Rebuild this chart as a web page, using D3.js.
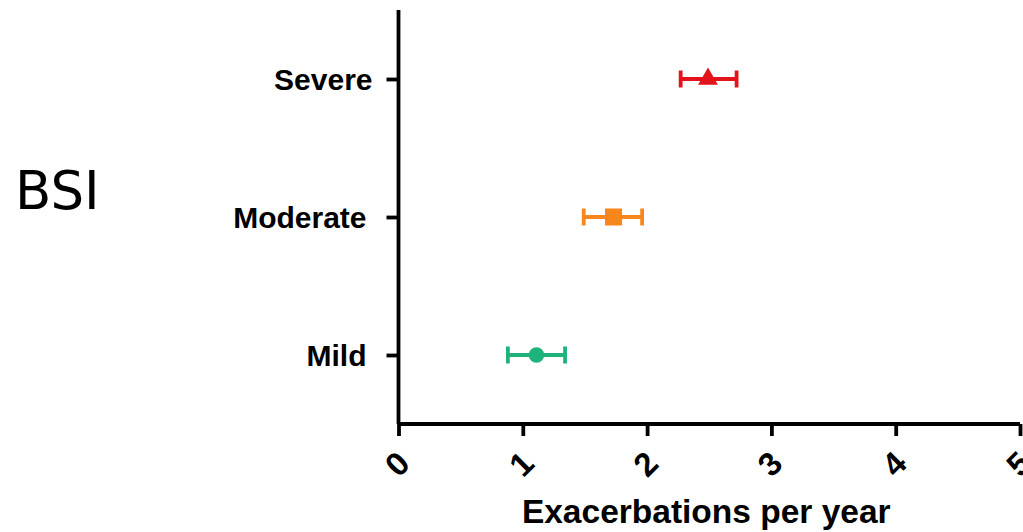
<!DOCTYPE html>
<html>
<head>
<meta charset="utf-8">
<script src="https://cdn.jsdelivr.net/npm/d3@7"></script>
<style>
  body { margin: 0; background: #fff; }
  svg { display: block; }
  .axis text { font-family: "Liberation Sans", Arial, sans-serif; font-weight: bold; fill: #000; }
</style>
</head>
<body>
<svg></svg>
<script>
var w = 1023, h = 532;

// data
var categories = ["Mild", "Moderate", "Severe"];
var means = [1.11, 1.73, 2.49];
var lower = [0.88, 1.49, 2.27];
var upper = [1.34, 1.96, 2.72];
var colors = ["#1db37b", "#f7861c", "#e3131b"];
var shapes = ["circle", "square", "triangle"];
var xTicks = [0, 1, 2, 3, 4, 5];

var svg = d3.select("svg")
    .attr("width", w)
    .attr("height", h);

var x = d3.scaleLinear().domain([0, 5]).range([398.5, 1020]);
var y = d3.scalePoint().domain(categories).range([424, 10]).padding(0.5);

// y axis
var yAxis = svg.append("g")
    .attr("class", "axis")
    .attr("transform", "translate(" + x(0) + ",0)")
    .call(d3.axisLeft(y).tickSize(12).tickPadding(20));
yAxis.select(".domain").attr("stroke-width", 3.8).attr("d", "M0,10V424");
yAxis.selectAll(".tick line").attr("stroke-width", 3.8);
yAxis.selectAll(".tick text").attr("font-size", 30).attr("dy", "0.35em");
yAxis.selectAll(".tick text").filter(d => d == "Severe").attr("x", -26);

// x axis
var xAxis = svg.append("g")
    .attr("class", "axis")
    .attr("transform", "translate(0,424)")
    .call(d3.axisBottom(x).tickValues(xTicks).tickSize(12).tickFormat(d3.format("d")));
xAxis.select(".domain").attr("stroke-width", 3.8).attr("d", "M" + x(0) + ",0H" + x(5));
xAxis.selectAll(".tick line").attr("stroke-width", 3.8);
xAxis.selectAll(".tick text")
    .attr("x", null).attr("y", null).attr("dy", null)
    .attr("transform", "translate(-2,40) rotate(-45)")
    .attr("text-anchor", "middle")
    .attr("dominant-baseline", "central")
    .style("font-size", "33px");

// axis title
svg.append("text")
    .attr("x", (x(0) + x(5)) / 2 - 3)
    .attr("y", 523)
    .attr("text-anchor", "middle")
    .style("font-family", "'Liberation Sans', Arial, sans-serif")
    .style("font-weight", "bold")
    .style("font-size", "33.5px")
    .text("Exacerbations per year");

// BSI label
svg.append("text")
    .attr("x", 15)
    .attr("y", 209)
    .style("font-family", "'DejaVu Sans', Verdana, sans-serif")
    .style("font-size", "53px")
    .text("BSI");

// error bars + markers
var rows = categories.map((c, i) => ({cat: c, mean: means[i], lo: lower[i], hi: upper[i], color: colors[i], shape: shapes[i]}));

var g = svg.selectAll(".point").data(rows).enter().append("g").attr("class", "point");

g.append("line")
    .attr("x1", d => x(d.lo)).attr("x2", d => x(d.hi))
    .attr("y1", d => y(d.cat)).attr("y2", d => y(d.cat))
    .attr("stroke", d => d.color).attr("stroke-width", 3.8);
g.append("line")
    .attr("x1", d => x(d.lo)).attr("x2", d => x(d.lo))
    .attr("y1", d => y(d.cat) - 8.5).attr("y2", d => y(d.cat) + 8.5)
    .attr("stroke", d => d.color).attr("stroke-width", 3.8);
g.append("line")
    .attr("x1", d => x(d.hi)).attr("x2", d => x(d.hi))
    .attr("y1", d => y(d.cat) - 8.5).attr("y2", d => y(d.cat) + 8.5)
    .attr("stroke", d => d.color).attr("stroke-width", 3.8);

var symbolType = {circle: d3.symbolCircle, square: d3.symbolSquare, triangle: d3.symbolTriangle};
var symbolSize = {circle: 190, square: 290, triangle: 170};
g.append("path")
    .attr("d", d => d3.symbol().type(symbolType[d.shape]).size(symbolSize[d.shape])())
    .attr("transform", d => "translate(" + x(d.mean) + "," + y(d.cat) + ")")
    .attr("fill", d => d.color);
</script>
</body>
</html>
